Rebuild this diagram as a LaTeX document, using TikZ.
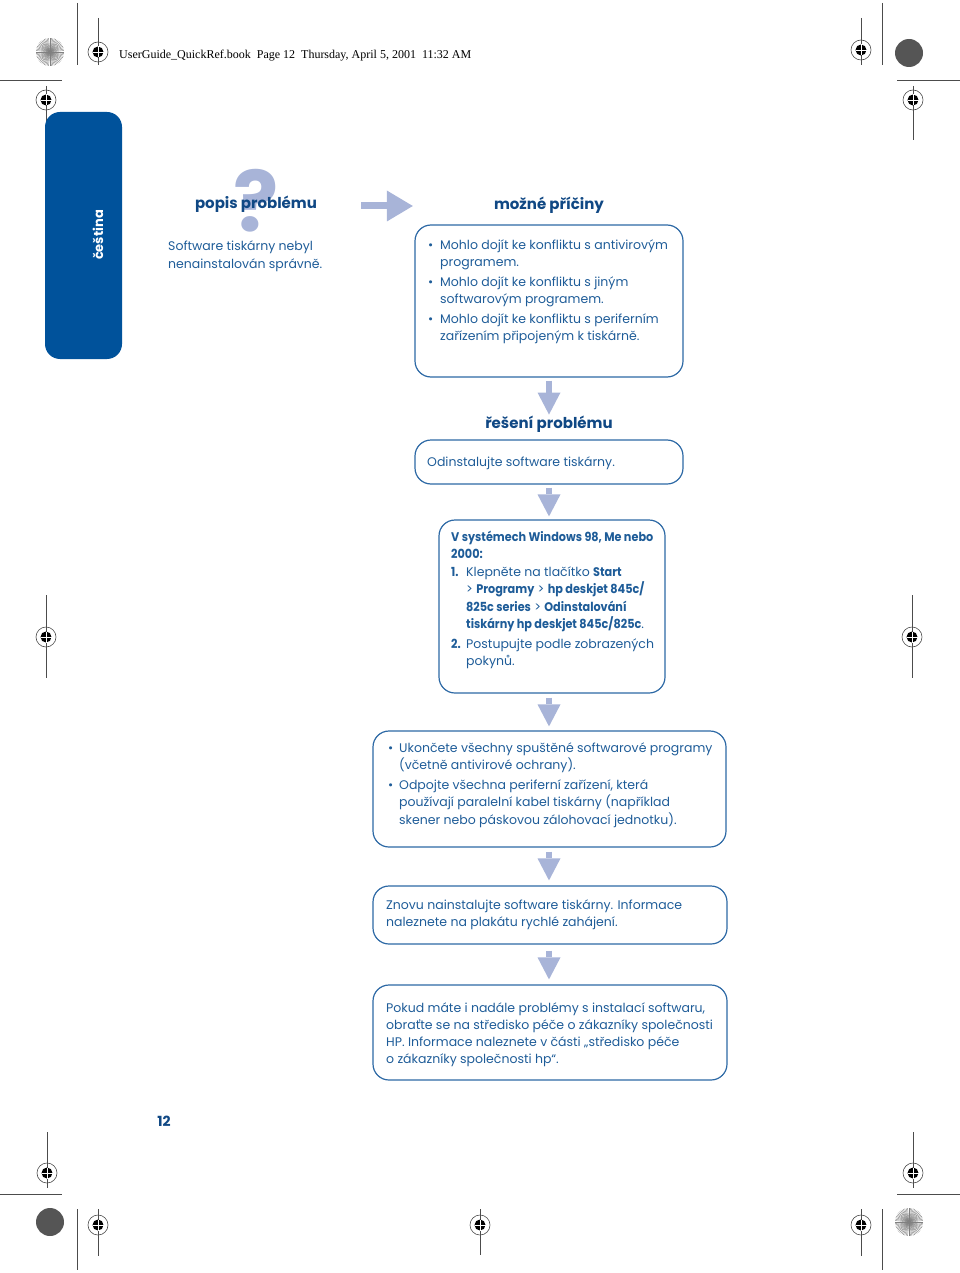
\documentclass[tikz,border=0pt]{standalone}
\usepackage{fontspec}
\setmainfont{Poppins}
\newfontfamily\hdrfont{Liberation Serif}
\newfontfamily\condfont[FakeStretch=0.9]{Poppins}
\usetikzlibrary{arrows.meta,positioning,calc}

\definecolor{hpblue}{RGB}{0,82,155}
\definecolor{hptitle}{RGB}{16,72,132}
\definecolor{hptext}{RGB}{30,92,152}
\definecolor{hpline}{RGB}{45,105,165}
\definecolor{hplight}{RGB}{168,180,216}
\definecolor{regdark}{RGB}{85,85,85}

\newcommand{\bitem}{\makebox[12pt][l]{\textbullet}}
\newcommand{\bcont}{\hspace*{12pt}}
\newcommand{\nitem}[1]{\makebox[15pt][l]{\condfont\bfseries #1}}
\newcommand{\nb}[1]{{\condfont\bfseries #1}}

% registration target: centre, then its cross lines
\newcommand{\regmark}[5]{%
  \draw[regline] (#2,#1) -- (#3,#1);
  \draw[regline] (#1 |- 0,#4) -- (#1 |- 0,#5);
  \draw[regline] (#1) circle (10);
  \fill (#1) circle (5.5);
  \draw[white, line width=.5pt] ($(#1)+(-5.5,0)$) -- ($(#1)+(5.5,0)$) ($(#1)+(0,-5.5)$) -- ($(#1)+(0,5.5)$);
}
\newcommand{\starmark}[1]{%
  \foreach \a in {0,6,...,174} \draw[gray, line width=.4pt] (#1) ++(\a:14) -- ++(\a+180:28);
  \fill[gray] (#1) circle (1.2);
}

\tikzset{
  regline/.style={line width=.6pt, draw=black!70},
  flowbox/.style={draw=hpline, line width=1.2pt, rounded corners=16pt, inner sep=0pt},
  bodytext/.style={text=hptext, align=left, inner sep=0pt, anchor=north west, font=\fontsize{12.5}{17.5}\selectfont},
  titletext/.style={text=hptitle, inner sep=0pt, font=\fontsize{15}{18}\selectfont\bfseries},
  downarrow/.style={draw=hplight, line width=6pt, -{Triangle[width=23pt,length=22pt,line width=0pt]}, shorten <=4pt, shorten >=4pt},
  rightarrow/.style={draw=hplight, line width=7pt, -{Triangle[width=31pt,length=26pt,line width=0pt]}}
}

\begin{document}
\begin{tikzpicture}[x=1pt, y=-1pt]
\useasboundingbox (0,0) rectangle (960,1273);

% print marks
\draw[regline] (77,3) -- (77,65) (882,3) -- (882,65) (77,1209) -- (77,1270) (882,1209) -- (882,1270);
\draw[regline] (0,80) -- (62,80) (897,80) -- (960,80) (0,1194) -- (62,1194) (897,1194) -- (960,1194);
\starmark{50,52}
\starmark{909,1222}
\fill[regdark] (909,53) circle (14);
\fill[regdark] (50,1222) circle (14);
\regmark{98,52}{83}{138}{18}{65}
\regmark{861,50}{820}{877}{18}{65}
\regmark{46,100}{15}{62}{86}{143}
\regmark{913,100}{897}{943}{86}{140}
\regmark{46,637}{15}{62}{595}{678}
\regmark{912,637}{896}{943}{595}{678}
\regmark{47,1173}{15}{62}{1132}{1188}
\regmark{913,1173}{897}{943}{1132}{1188}
\regmark{98,1225}{83}{138}{1209}{1256}
\regmark{480,1225}{438}{520}{1209}{1255}
\regmark{861,1225}{820}{877}{1209}{1256}

\node[anchor=base west, inner sep=0pt, font=\hdrfont\fontsize{12}{14}\selectfont] (header) at (119,59)
  {UserGuide\_QuickRef.book\ \ Page 12\ \ Thursday, April 5, 2001\ \ 11:32 AM};

% language tab
\node[fill=hpblue, rounded corners=15pt, minimum width=77pt, minimum height=247pt, inner sep=0pt] (tab) at (83.5,235.5) {};
\node[rotate=90, text=white, inner sep=0pt, font=\fontsize{13}{15}\selectfont\bfseries] (tablabel) at (98,235) {čeština};

% problem
\node[text=hplight, inner sep=0pt, text depth=0pt, font=\fontsize{84}{84}\selectfont\bfseries] (qmark) at (256,200) {?};
\node[titletext] (probtitle) at (256,204) {popis problému};
\node[bodytext] (probtext) at (168,241) {Software tiskárny nebyl\\nenainstalován správně.};

% causes
\node[titletext] (causetitle) at (549,205) {možné příčiny};
\node[flowbox, minimum width=268pt, minimum height=152pt] (causebox) at (549,301) {};
\node[bodytext] (causetext) at (428,239.5) {%
  \bitem Mohlo dojít ke konfliktu s antivirovým\\
  \bcont programem.\\[2pt]
  \bitem Mohlo dojít ke konfliktu s jiným\\
  \bcont softwarovým programem.\\[2pt]
  \bitem Mohlo dojít ke konfliktu s periferním\\
  \bcont zařízením připojeným k tiskárně.};

% solution
\node[titletext] (soltitle) at (549,424) {řešení problému};
\node[flowbox, minimum width=268pt, minimum height=44pt] (uninstbox) at (549,462) {};
\node[bodytext] (uninsttext) at (427,457) {Odinstalujte software tiskárny.};

\node[flowbox, minimum width=226pt, minimum height=173pt] (winbox) at (552,606.5) {};
\node[bodytext] (wintext) at (451,530.5) {%
  \nb{V systémech Windows 98, Me nebo}\\
  \nb{2000:}\\
  \nitem{1.}Klepněte na tlačítko \nb{Start}\\
  \hspace*{15pt}> \nb{Programy} > \nb{hp deskjet 845c/}\\
  \hspace*{15pt}\nb{825c series} > \nb{Odinstalování}\\
  \hspace*{15pt}\nb{tiskárny hp deskjet 845c/825c}.\\[2pt]
  \nitem{2.}Postupujte podle zobrazených\\
  \hspace*{15pt}pokynů.};

\node[flowbox, minimum width=353pt, minimum height=116pt] (closebox) at (549.5,789) {};
\node[bodytext] (closetext) at (388,742.5) {%
  \makebox[11pt][l]{\textbullet}Ukončete všechny spuštěné softwarové programy\\
  \hspace*{11pt}(včetně antivirové ochrany).\\[2pt]
  \makebox[11pt][l]{\textbullet}Odpojte všechna periferní zařízení, která\\
  \hspace*{11pt}používají paralelní kabel tiskárny (například\\
  \hspace*{11pt}skener nebo páskovou zálohovací jednotku).};

\node[flowbox, minimum width=354pt, minimum height=58pt] (reinstbox) at (550,915) {};
\node[bodytext] (reinsttext) at (386,899.5) {Znovu nainstalujte software tiskárny. Informace\\naleznete na plakátu rychlé zahájení.};

\node[flowbox, minimum width=354pt, minimum height=95pt] (supportbox) at (550,1032.5) {};
\node[bodytext, font=\fontsize{12.5}{17}\selectfont] (supporttext) at (386,1002.5) {%
  Pokud máte i nadále problémy s instalací softwaru,\\
  obraťte se na středisko péče o zákazníky společnosti\\
  HP. Informace naleznete v části „středisko péče\\
  o zákazníky společnosti hp“.};

% arrows
\draw[rightarrow] ([xshift=44pt,yshift=-2pt]probtitle.east) -- ([xshift=-81pt,yshift=-1pt]causetitle.west);
\draw[downarrow, shorten <=3pt, shorten >=1pt] (causebox.south) -- (causebox.south |- soltitle.north);
\draw[downarrow, shorten <=3pt, shorten >=3pt] (uninstbox.south) -- (uninstbox.south |- winbox.north);
\draw[downarrow] (uninstbox.south |- winbox.south) -- (uninstbox.south |- closebox.north);
\draw[downarrow, shorten >=5pt] (uninstbox.south |- closebox.south) -- (uninstbox.south |- reinstbox.north);
\draw[downarrow, shorten <=6pt, shorten >=5pt] (uninstbox.south |- reinstbox.south) -- (uninstbox.south |- supportbox.north);

\node[text=hptitle, inner sep=0pt, font=\fontsize{14}{16}\selectfont\bfseries] (pagenum) at (164,1121) {12};
\end{tikzpicture}
\end{document}
